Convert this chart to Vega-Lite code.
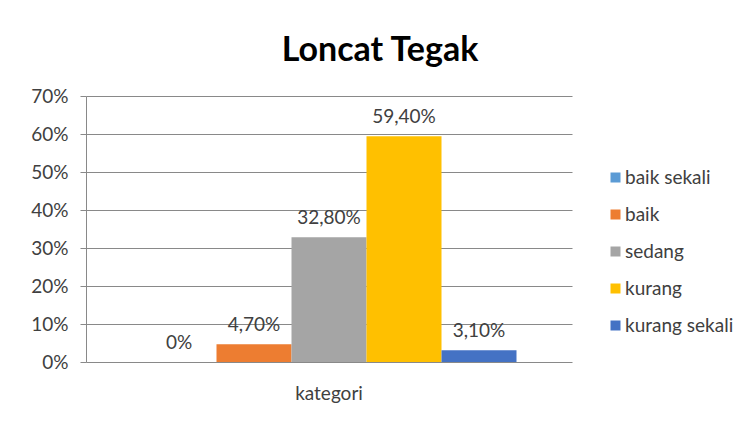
{
  "$schema": "https://vega.github.io/schema/vega-lite/v6.json",
  "autosize": {"type": "none"},
  "width": 486,
  "height": 266,
  "padding": {"left": 86, "top": 96, "right": 170, "bottom": 64},
  "background": "white",
  "config": {
    "font": "Lato",
    "view": {"stroke": null},
    "axis": {"labelColor": "#404040", "labelFont": "Lato", "labelFontSize": 19, "gridColor": "#898989", "domainColor": "#898989", "tickColor": "#898989"},
    "legend": {"labelFont": "Lato", "labelFontSize": 19, "labelColor": "#404040"}
  },
  "title": {"text": "Loncat Tegak", "fontSize": 34, "font": "Lato", "fontWeight": "bold", "color": "#000000", "anchor": "middle", "dx": 51, "offset": 19},
  "data": {"values": [
    {"kategori": "kategori", "series": "baik sekali", "value": 0, "label": "0%"},
    {"kategori": "kategori", "series": "baik", "value": 0.047, "label": "4,70%"},
    {"kategori": "kategori", "series": "sedang", "value": 0.328, "label": "32,80%"},
    {"kategori": "kategori", "series": "kurang", "value": 0.594, "label": "59,40%"},
    {"kategori": "kategori", "series": "kurang sekali", "value": 0.031, "label": "3,10%"}
  ]},
  "encoding": {
    "x": {"field": "kategori", "type": "nominal", "scale": {"paddingInner": 0, "paddingOuter": 0.148},
      "axis": {"title": null, "labelAngle": 0, "ticks": false, "domain": false, "labelPadding": 22, "labelFontSize": 19}},
    "xOffset": {"field": "series", "type": "nominal", "sort": ["baik sekali", "baik", "sedang", "kurang", "kurang sekali"], "scale": {"paddingInner": 0, "paddingOuter": 0}},
    "y": {"field": "value", "type": "quantitative", "scale": {"domain": [0, 0.7]},
      "axis": {"title": null, "format": ".0%", "values": [0, 0.1, 0.2, 0.3, 0.4, 0.5, 0.6, 0.7], "tickSize": 6, "labelPadding": 12, "domain": true}}
  },
  "layer": [
    {
      "mark": {"type": "bar"},
      "encoding": {
        "color": {"field": "series", "type": "nominal",
          "scale": {"domain": ["baik sekali", "baik", "sedang", "kurang", "kurang sekali"], "range": ["#5B9BD5", "#ED7D31", "#A5A5A5", "#FFC000", "#4472C4"]},
          "legend": {"title": null, "orient": "none", "legendX": 520, "legendY": 72, "symbolType": "square", "symbolSize": 100, "symbolStrokeWidth": 0, "rowPadding": 17, "labelOffset": 0}}
      }
    },
    {
      "mark": {"type": "text", "fontSize": 19, "color": "#404040", "dy": -13, "baseline": "alphabetic"},
      "encoding": {"text": {"field": "label"}}
    }
  ]
}
